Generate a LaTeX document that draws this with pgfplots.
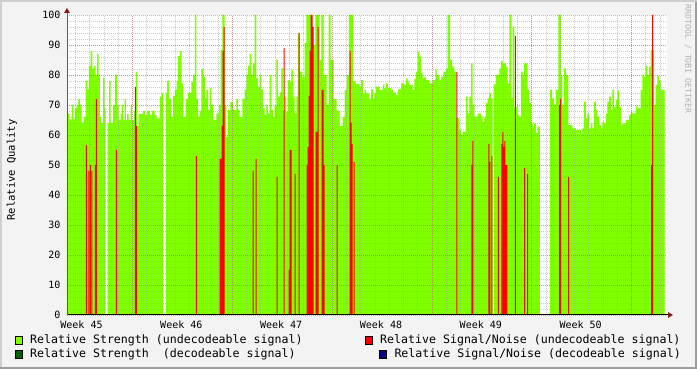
\documentclass[border=0pt]{standalone}
\usepackage{pgfplots}
\pgfplotsset{compat=1.18}
\usepackage{fontspec}
\setmainfont{DejaVu Sans Mono}
\definecolor{bgc}{HTML}{F3F3F3}
\definecolor{strU}{HTML}{7FFF00}
\definecolor{strD}{HTML}{006400}
\definecolor{snrU}{HTML}{FF0000}
\definecolor{snrD}{HTML}{000080}
\definecolor{mgrid}{HTML}{D04848}
\definecolor{mingrid}{HTML}{A8A8A8}
\definecolor{arr}{HTML}{8B1A1A}
\definecolor{shadeA}{HTML}{CFCFCF}
\definecolor{shadeB}{HTML}{9C9C9C}
\definecolor{yaxc}{HTML}{5A5A78}
\begin{document}
\begin{tikzpicture}[x=1pt,y=1pt]
\useasboundingbox (0,0) rectangle (697,369);
\fill[bgc] (0,0) rectangle (697,369);
\fill[shadeA] (0,367) rectangle (697,369);
\fill[shadeA] (0,0) rectangle (2,369);
\fill[shadeB] (0,0) rectangle (697,2);
\fill[shadeB] (695,0) rectangle (697,367);
\begin{axis}[
  at={(67pt,54pt)}, anchor=south west,
  scale only axis, width=600pt, height=300pt,
  xmin=0, xmax=601, ymin=0, ymax=100,
  axis background/.style={fill=white},
  axis on top,
  axis line style={draw=none},
  major tick length=0pt, minor tick length=0pt,
  xtick={14.5,114.5,214.5,314.5,414.5,514.5},
  xticklabels={Week 45,Week 46,Week 47,Week 48,Week 49,Week 50},
  minor xtick={8.357,22.643,...,600},
  extra x ticks={65.5,165.5,265.5,365.5,465.5,565.5},
  extra x tick labels={},
  extra x tick style={grid=major},
  xmajorgrids=false, xminorgrids=true,
  ymajorgrids=true, yminorgrids=true,
  ytick={0,10,...,100},
  minor ytick={2,4,...,98},
  minor grid style={mingrid, opacity=0.6, line width=0.7pt, dash pattern=on 1pt off 1pt},
  major grid style={mgrid, opacity=0.45, line width=0.7pt, dash pattern=on 1pt off 1pt},
  xticklabel style={font=\fontsize{10}{12}\selectfont, yshift=-2pt},
  yticklabel style={font=\fontsize{10}{12}\selectfont, xshift=-3pt},
  /pgf/number format/assume math mode=true,
]
% Relative Strength (undecodeable signal)
\addplot[const plot mark left, fill=strU, draw=none] coordinates {
(0,67.2)(2.3,65.2)(5,70)(6.3,65.2)(8,68.9)(9.7,70)(11.3,72)(13,70)(14.7,64.1)(17,66.1)
(18.7,78)(20.3,75.2)(22,83)(23.7,88)(25.3,82)(27,83.1)(28.7,80)(30.3,87)(31.7,80)(33,66)
(34.3,64)(36.3,79)(37.7,69)(38.7,0)(40.7,64)(42.3,78)(43.7,64)(46.3,70)(48.3,80)(50.3,70)
(51.7,65)(53.7,67)(55,70)(56.3,65)(57.7,72)(59,65)(60.3,67)(61.7,65)(63.7,70)(65,65)
(67,68)(69,81)(70.3,63)(71.7,67)(76.3,68)(78.3,66.7)(80.3,68)(83,66.7)(85,68)(87.7,66.7)
(89.7,65.5)(93,72.8)(94.7,74)(96.3,0)(99,74)(100.3,78)(102,72)(104,66)(106.3,73)(108,75)
(109.7,78)(111.3,86.3)(113,88)(114.7,77.2)(116.3,66)(119,72)(121.3,74)(124.7,77.8)(126.3,80)(128,100)
(129.7,72)(131.3,66)(133,68)(134.7,82)(136.3,79.4)(138,72.2)(139.7,75)(141.3,68.3)(143,75.6)(144.7,70)
(146.3,65)(149.7,67.2)(152.3,70)(154,88.3)(155.7,100)(158,70)(159.7,59.4)(161.3,68.3)(163.7,71)(166.3,68.3)
(169.7,72)(171.3,68.3)(173,66)(175.7,72)(178,75.2)(179.7,80)(181.3,83)(183,87)(184.7,80)(186.3,83.9)
(188,100)(189.7,78.9)(191.3,76.1)(193,80)(194.7,75.2)(196.3,68.9)(198,66.7)(199.7,70)(201.3,67.2)(203,80)
(204.7,68.3)(206.3,66)(208,69.8)(209.7,85.2)(211.3,72.8)(213,74.2)(214.7,82.2)(216.3,68.3)(218,72.8)(219.7,67.8)
(221.3,78.3)(223,77.8)(224.7,81.7)(226.3,72.8)(228,67.2)(229.7,72.8)(231.3,93.9)(233,81.1)(235.7,79.4)(238,90.6)
(239.7,100)(244.7,90)(248.7,100)(253,85)(254.7,100)(257,80)(260,70)(262,100)(264,85)(267,72)
(270,68)(273,63)(276,66)(278,75)(280,80)(282.3,100)(286.3,78)(289,77)(293,76.1)(294.7,78.3)
(296.3,73.9)(298,75)(299.7,73.9)(303,72)(304.7,75.2)(306.3,72)(308,73.9)(309.7,76.1)(313,75)(316.3,76.9)
(318,75.6)(319.7,77.2)(321.3,75.6)(324.7,75)(326.3,74.1)(329.7,73.3)(331.3,75.2)(334.7,77.2)(338,76.7)(339.7,78.9)
(341.3,77.8)(343,76.7)(346.3,75)(348,78.6)(349.7,81.1)(351.3,87.8)(353,86.1)(354.7,80.6)(356.3,78.9)(358,79.4)
(359.7,78.3)(363,77.2)(366.3,78.3)(369,81.9)(370.3,80)(373,78.3)(374.7,79.4)(377,81.1)(379.7,82.2)(381.3,100)
(383.7,85)(385.7,82.8)(388,81.1)(389.7,65.6)(393,61.7)(394.7,60)(396.3,61.1)(399.7,72.8)(401.3,67.2)(403,72.8)
(404.7,83.9)(406.3,70)(408,66.1)(411.3,67.2)(414.7,66.1)(416.3,64.4)(418,66.1)(419.7,70.6)(421.3,72.2)(423,73.9)
(424.7,72.2)(426.3,0)(427.3,76.9)(429.7,80)(433,82.2)(434.7,84.7)(436.3,83.9)(439.7,82.8)(441.3,77.2)(443,100)
(445,72.2)(446.3,96.1)(448,68.9)(449.7,69.4)(451.3,66.7)(453,66.1)(454.7,81.1)(456.3,80)(458,83.9)(461.3,75)
(463,70.6)(464.7,63.9)(466.3,62.8)(468,63.9)(469.7,60.6)(471.3,62.8)(473.7,0)(483.7,75)(485.7,72.2)(488,70)
(489.7,75)(492.3,100)(494.7,80)(496.3,70)(498,82.2)(499.7,80)(502.3,63.3)(506.3,62.2)(509.7,61.7)(514.7,60.6)
(516.3,62.2)(518,71.1)(519.7,65.6)(521.3,67.2)(523,62.2)(524.7,63.9)(526.3,62.2)(528,71.1)(529.7,68.3)(531.3,66.1)
(533,63.3)(534.7,62.2)(536.3,64.4)(538,63.9)(539.7,67.2)(541.3,71.1)(543,72.8)(544.7,68.3)(546.3,75)(548,69.4)
(549.7,71.7)(551.3,74.8)(553,69.4)(554.7,63.3)(556.3,63.9)(559.7,65)(563,66.7)(564.7,67.8)(566.3,67.2)(569.7,69.7)
(571.3,68.9)(574.7,75)(576.3,80)(578,79.4)(579.7,83)(581.3,80)(583,82.8)(584.7,88.3)(588,70)(589.7,76.7)
(591.3,79.7)(593,78.3)(594.7,75.2)(596.3,75)(598.7,75)
} \closedcycle;
\end{axis}
% overlay axis: Relative Signal/Noise (undecodeable signal), drawn above the grid
\begin{axis}[
  at={(67pt,54pt)}, anchor=south west,
  scale only axis, width=600pt, height=300pt,
  xmin=0, xmax=601, ymin=0, ymax=100,
  hide axis,
]
\addplot[ybar, bar width=1, bar shift=0pt, fill=snrU, draw=none] coordinates {
(19.5,56.7)(22,48)(23.5,50)(25,48)(28.5,50)(29.5,72)(49.5,55)(68.5,76)(69.5,63)(129.5,53)
(153.5,52)(154.5,52)(155.5,63)(156.5,88)(157.5,96)(186.5,48)(189.5,52)(210.5,46)(217.5,89)(222.5,15)
(223.5,55)(224.5,55)(228.5,47)(232.5,94)(240.5,50)(241.5,56)(242.5,73)(243.5,88)(244.5,100)(245.5,100)
(246.5,96)(249.5,61)(250.5,61)(251.5,96)(255.5,75)(256.5,75)(257.5,50)(270.5,50)(283.5,88)(284.5,64)
(285.5,57)(287.5,51)(390.5,81)(405.5,50)(406.5,58)(422.5,57)(423.5,51)(425.5,53)(432,46)(435.5,57)
(436.5,61)(437.5,56)(438.5,58)(439.5,50)(440.5,50)(449,93)(458.5,49)(461.5,47)(493.5,70)(494.5,72)
(502.5,46)(585.5,50)(586.5,100)
};
\end{axis}
% axes with arrows
\draw[black, line width=1pt] (67,54) -- (669,54);
\fill[arr] (673,54) -- (668,57) -- (668,51) -- cycle;
\draw[yaxc, line width=1pt] (67,54) -- (67,357);
\fill[arr] (67,361) -- (64,356) -- (70,356) -- cycle;
% y label
\node[rotate=90, font=\fontsize{10.5}{12}\selectfont] at (12,199) {Relative Quality};
% watermark
\node[rotate=-90, font=\fontsize{8.2}{10}\selectfont, text=gray!60] at (688,310) {RRDTOOL / TOBI OETIKER};
% legend
\begin{scope}[font=\fontsize{11.6}{13}\selectfont]
\filldraw[fill=strU, draw=black, line width=0.7pt] (15,25) rectangle (22.5,32.5);
\node[anchor=west, inner sep=0pt] at (30,28.7) {Relative Strength (undecodeable signal)};
\filldraw[fill=strD, draw=black, line width=0.7pt] (15,11) rectangle (22.5,18.5);
\node[anchor=west, inner sep=0pt] at (30,14.7) {Relative Strength\ \ (decodeable signal)};
\filldraw[fill=snrU, draw=black, line width=0.7pt] (365,25) rectangle (372.5,32.5);
\node[anchor=west, inner sep=0pt] at (380,28.7) {Relative Signal/Noise (undecodeable signal)};
\filldraw[fill=snrD, draw=black, line width=0.7pt] (379.3,11) rectangle (386.8,18.5);
\node[anchor=west, inner sep=0pt] at (394.3,14.7) {Relative Signal/Noise (decodeable signal)};
\end{scope}
\end{tikzpicture}
\end{document}
